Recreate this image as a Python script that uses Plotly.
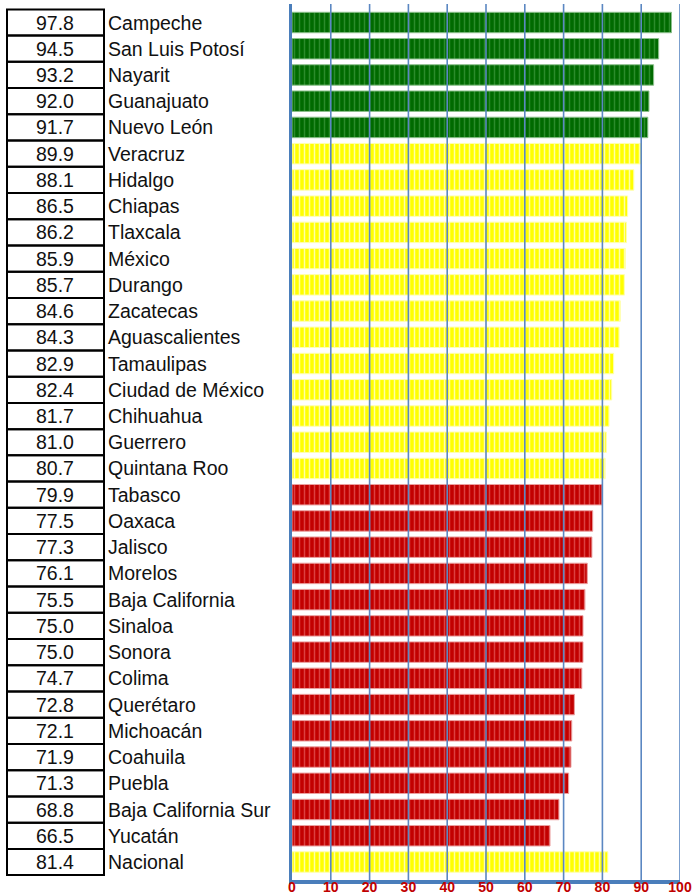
import plotly.graph_objects as go

states = ["Campeche", "San Luis Potosí", "Nayarit", "Guanajuato", "Nuevo León",
          "Veracruz", "Hidalgo", "Chiapas", "Tlaxcala", "México", "Durango",
          "Zacatecas", "Aguascalientes", "Tamaulipas", "Ciudad de México",
          "Chihuahua", "Guerrero", "Quintana Roo", "Tabasco", "Oaxaca", "Jalisco",
          "Morelos", "Baja California", "Sinaloa", "Sonora", "Colima", "Querétaro",
          "Michoacán", "Coahuila", "Puebla", "Baja California Sur", "Yucatán",
          "Nacional"]
values = [97.8, 94.5, 93.2, 92.0, 91.7, 89.9, 88.1, 86.5, 86.2, 85.9, 85.7,
          84.6, 84.3, 82.9, 82.4, 81.7, 81.0, 80.7, 79.9, 77.5, 77.3, 76.1,
          75.5, 75.0, 75.0, 74.7, 72.8, 72.1, 71.9, 71.3, 68.8, 66.5, 81.4]
tick_vals = [0, 10, 20, 30, 40, 50, 60, 70, 80, 90, 100]

# styling by band
def band(v):
    if v >= 90:
        return "green"
    if v >= 80:
        return "yellow"
    return "red"

BG = {"green": "#006a00", "yellow": "#ffff00", "red": "#c20000"}
FG = {"green": "#2b8b2b", "yellow": "#ffffa6", "red": "#dc4040"}
EDGE = {"green": "#8cc08c", "yellow": "#ffffb0", "red": "#eaa0a0"}
bands = [band(v) for v in values]

W, H = 694, 896
L, R, T, B = 292, 14, 4, 16
plot_w = W - L - R

def px_to_paper(px):
    return (px - L) / plot_w

n = len(states)
fig = go.Figure()
for bname in ["green", "yellow", "red"]:
    xs = [v for v, b in zip(values, bands) if b == bname]
    ys = [s for s, b in zip(states, bands) if b == bname]
    fig.add_trace(go.Bar(
        x=xs, y=ys, orientation="h", width=0.78, name=bname,
        marker=dict(
            color=BG[bname],
            line=dict(color=EDGE[bname], width=1),
            pattern=dict(shape="|", size=5, solidity=0.3,
                         fgcolor=FG[bname], bgcolor=BG[bname],
                         fillmode="replace"),
        ),
        hoverinfo="x+y",
    ))

shapes = []
annotations = []
box_x0, box_x1 = px_to_paper(7), px_to_paper(104)
for i, (s, v) in enumerate(zip(states, values)):
    shapes.append(dict(type="rect", xref="paper", yref="y",
                       x0=box_x0, x1=box_x1, y0=i - 0.5, y1=i + 0.5,
                       line=dict(color="black", width=2), layer="above"))
    annotations.append(dict(xref="paper", yref="y", x=(box_x0 + box_x1) / 2, y=s,
                            text=f"{v:.1f}", showarrow=False, xanchor="center",
                            font=dict(family="Arial, Liberation Sans", size=19.5, color="#111")))
    annotations.append(dict(xref="paper", yref="y", x=px_to_paper(106), y=s,
                            text=s, showarrow=False, xanchor="left",
                            font=dict(family="Arial, Liberation Sans", size=19.5, color="#111")))

for tv in tick_vals[1:]:
    shapes.append(dict(type="line", xref="x", yref="paper", x0=tv, x1=tv, y0=0, y1=1,
                       line=dict(color="#5b87c2", width=1.6), layer="above"))

# pixel centers: row 0 at 22.5, last row at 862
pitch = (862 - 22.5) / (n - 1)
plot_h = H - T - B
top_val = -(22.5 - T) / pitch
bot_val = top_val + plot_h / pitch

fig.update_layout(
    width=W, height=H,
    margin=dict(l=L, r=R, t=T, b=B, autoexpand=False),
    plot_bgcolor="white", paper_bgcolor="white",
    showlegend=False, barmode="overlay",
    shapes=shapes, annotations=annotations,
    xaxis=dict(range=[0, 100], tickvals=tick_vals, showgrid=False, zeroline=False,
               showline=True, linecolor="#4a7ebb", linewidth=4, ticks="",
               ticklabelstandoff=-9,
               automargin=False, layer="above traces",
               tickfont=dict(family="Arial, Liberation Sans", size=14, color="#c00000",
                             weight="bold")),
    yaxis=dict(categoryorder="array", categoryarray=states, range=[bot_val, top_val],
               showticklabels=False, showgrid=False, zeroline=False,
               showline=True, linecolor="#4a7ebb", linewidth=3, ticks="",
               automargin=False, layer="above traces"),
)

fig.write_html("out.html", config={"displayModeBar": False},
               post_script="document.body.style.margin='0';document.body.style.overflow='hidden';")
